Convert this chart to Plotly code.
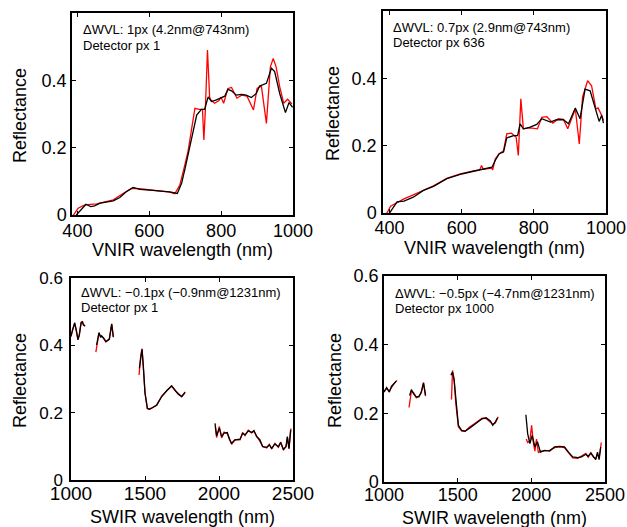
import plotly.graph_objects as go

# ---------------- data ----------------
# Panel 1: VNIR, detector px 1
p1_wl_black = [397, 412, 424, 437, 448, 463, 482, 500, 518, 536, 555, 574, 602, 630, 657, 678, 690, 700,
               712, 722, 732, 745, 754, 764, 773, 787, 800, 810, 819, 829, 842, 857, 870, 884, 898, 907,
               926, 940, 949, 963, 979, 989, 999]
p1_r_black = [0.0, 0.017, 0.032, 0.025, 0.027, 0.035, 0.038, 0.042, 0.052, 0.069, 0.082, 0.076, 0.074, 0.072,
              0.069, 0.064, 0.094, 0.14, 0.198, 0.252, 0.297, 0.314, 0.314, 0.351, 0.337, 0.342, 0.347, 0.353,
              0.373, 0.369, 0.356, 0.358, 0.356, 0.349, 0.361, 0.383, 0.391, 0.436, 0.426, 0.361, 0.304, 0.334, 0.32]
p1_wl_red = [385, 389, 402, 421, 454, 477, 500, 527, 551, 574, 602, 630, 657, 671, 685, 697, 708, 717, 727,
             739, 748, 752, 756, 762, 768, 771, 782, 794, 800, 807, 819, 829, 844, 857, 872, 890, 900, 912,
             926, 937, 945, 953, 963, 974, 985, 997]
p1_r_red = [-0.005, 0.0, 0.02, 0.03, 0.033, 0.038, 0.045, 0.064, 0.079, 0.078, 0.075, 0.073, 0.068, 0.063,
            0.089, 0.14, 0.19, 0.25, 0.317, 0.314, 0.314, 0.223, 0.31, 0.49, 0.35, 0.342, 0.332, 0.34, 0.35,
            0.332, 0.376, 0.379, 0.347, 0.356, 0.353, 0.312, 0.376, 0.383, 0.272, 0.44, 0.465, 0.44, 0.381,
            0.332, 0.344, 0.33]

# Panel 2: VNIR, detector px 636
p2_wl_black = [397, 421, 440, 466, 494, 522, 559, 596, 633, 660, 684, 693, 704, 716, 725, 744, 755, 762, 771,
               790, 808, 822, 846, 863, 882, 896, 915, 928, 942, 956, 974, 981, 988, 993]
p2_r_black = [-0.005, 0.033, 0.035, 0.047, 0.067, 0.079, 0.102, 0.115, 0.124, 0.131, 0.136, 0.156, 0.176,
              0.181, 0.223, 0.23, 0.23, 0.265, 0.25, 0.255, 0.263, 0.28, 0.27, 0.277, 0.277, 0.265, 0.312,
              0.28, 0.368, 0.363, 0.294, 0.272, 0.29, 0.267]
p2_wl_red = [382, 393, 403, 440, 466, 494, 522, 559, 596, 633, 650, 655, 660, 684, 686, 693, 704, 716, 725,
             738, 751, 757, 764, 771, 790, 810, 822, 836, 853, 868, 882, 894, 915, 926, 935, 949, 960, 972,
             978, 988, 993]
p2_r_red = [-0.005, 0.0, 0.02, 0.042, 0.054, 0.068, 0.081, 0.103, 0.116, 0.125, 0.128, 0.141, 0.13, 0.133,
            0.128, 0.16, 0.176, 0.185, 0.235, 0.237, 0.225, 0.171, 0.339, 0.25, 0.253, 0.25, 0.284, 0.286,
            0.267, 0.28, 0.278, 0.25, 0.309, 0.205, 0.344, 0.393, 0.378, 0.309, 0.312, 0.29, 0.275]

# Panel 3: SWIR, detector px 1 (None = gap between bands)
p3_wl_black = [1000, 1011, 1025, 1038, 1047, 1056, 1068, 1077, 1083, 1095, None,
               1173, 1189, 1200, 1207, 1220, 1236, 1259, 1275, 1286, None,
               1462, 1471, 1480, 1489, 1500, 1516, 1530, 1545, 1579, 1613, 1646, 1680, 1703, 1725, 1748, 1770, None,
               1973, 1984, 2002, 2018, 2034, 2056, 2070, 2085, 2108, 2142, 2160, 2176, 2198, 2221, 2236, 2254,
               2277, 2295, 2322, 2340, 2356, 2378, 2401, 2417, 2435, 2453, 2462, 2473, 2484]
p3_r_black = [0.428, 0.446, 0.467, 0.441, 0.416, 0.431, 0.466, 0.471, 0.461, 0.458, None,
              0.401, 0.438, 0.424, 0.428, 0.421, 0.411, 0.418, 0.464, 0.424, None,
              0.332, 0.371, 0.388, 0.337, 0.258, 0.213, 0.21, 0.213, 0.223, 0.248, 0.265, 0.279, 0.267, 0.255,
              0.248, 0.26, None,
              0.168, 0.131, 0.154, 0.129, 0.139, 0.141, 0.121, 0.109, 0.119, 0.121, 0.139, 0.134, 0.146, 0.141,
              0.147, 0.129, 0.119, 0.099, 0.097, 0.104, 0.094, 0.107, 0.099, 0.111, 0.091, 0.099, 0.129, 0.094,
              0.149]
p3_wl_red = [1000, 1011, 1025, 1038, 1047, 1056, 1068, 1077, 1083, 1095, None,
             1168, 1189, 1200, 1207, 1220, 1236, 1259, 1275, 1286, None,
             1460, 1471, 1480, 1489, 1500, 1516, 1530, 1545, 1579, 1613, 1646, 1680, 1703, 1725, 1748, 1772, None,
             1975, 1984, 2002, 2018, 2034, 2056, 2070, 2085, 2108, 2142, 2160, 2176, 2198, 2221, 2236, 2254,
             2277, 2295, 2322, 2340, 2356, 2378, 2401, 2417, 2435, 2453, 2462, 2473, 2486]
p3_r_red = [0.425, 0.448, 0.465, 0.44, 0.418, 0.43, 0.468, 0.47, 0.463, 0.456, None,
            0.38, 0.436, 0.426, 0.426, 0.422, 0.41, 0.42, 0.462, 0.426, None,
            0.312, 0.37, 0.39, 0.335, 0.26, 0.212, 0.211, 0.214, 0.222, 0.249, 0.264, 0.28, 0.266, 0.256,
            0.247, 0.262, None,
            0.158, 0.126, 0.159, 0.125, 0.142, 0.138, 0.124, 0.106, 0.12, 0.119, 0.141, 0.132, 0.148, 0.14,
            0.145, 0.131, 0.117, 0.1, 0.095, 0.106, 0.092, 0.109, 0.097, 0.113, 0.089, 0.101, 0.126, 0.092,
            0.153]

# Panel 4: SWIR, detector px 1000
p4_wl_black = [1000, 1018, 1036, 1051, 1067, 1082, None,
               1174, 1186, 1201, 1219, 1237, 1253, 1268, 1282, None,
               1454, 1465, 1476, 1487, 1505, 1528, 1550, 1581, 1621, 1666, 1693, 1722, 1738, 1756, 1771, None,
               1963, 1975, 1990, 2006, 2024, 2042, 2062, 2091, 2124, 2158, 2192, 2225, 2252, 2281, 2315, 2341,
               2370, 2386, 2404, 2422, 2437, 2449, 2460, 2471]
p4_r_black = [0.262, 0.275, 0.262, 0.279, 0.286, 0.294, None,
              0.252, 0.269, 0.257, 0.248, 0.248, 0.262, 0.288, 0.252, None,
              0.311, 0.32, 0.296, 0.238, 0.165, 0.15, 0.148, 0.157, 0.17, 0.184, 0.187, 0.178, 0.165, 0.175,
              0.187, None,
              0.196, 0.141, 0.112, 0.136, 0.102, 0.117, 0.087, 0.092, 0.09, 0.102, 0.104, 0.102, 0.087, 0.073,
              0.071, 0.073, 0.081, 0.075, 0.084, 0.073, 0.065, 0.087, 0.065, 0.102]
p4_wl_red = [1000, 1018, 1036, 1051, 1067, 1089, None,
             1170, 1186, 1201, 1219, 1237, 1253, 1268, 1282, None,
             1458, 1465, 1476, 1487, 1505, 1528, 1550, 1581, 1621, 1666, 1693, 1722, 1738, 1756, 1775, None,
             1965, 1975, 1990, 2002, 2012, 2024, 2035, 2048, 2062, 2091, 2124, 2158, 2192, 2225, 2252, 2281,
             2315, 2341, 2370, 2386, 2404, 2422, 2437, 2449, 2460, 2475]
p4_r_red = [0.265, 0.272, 0.265, 0.275, 0.286, 0.296, None,
            0.217, 0.265, 0.26, 0.245, 0.25, 0.26, 0.29, 0.25, None,
            0.24, 0.325, 0.3, 0.23, 0.16, 0.148, 0.148, 0.16, 0.172, 0.186, 0.185, 0.175, 0.168, 0.172, 0.19, None,
            0.125, 0.115, 0.12, 0.165, 0.12, 0.09, 0.125, 0.085, 0.09, 0.09, 0.092, 0.1, 0.102, 0.1, 0.085,
            0.07, 0.069, 0.075, 0.083, 0.072, 0.085, 0.072, 0.068, 0.082, 0.07, 0.115]

panel_labels = [
    ["\u0394WVL: 1px (4.2nm@743nm)", "Detector px 1"],
    ["\u0394WVL: 0.7px (2.9nm@743nm)", "Detector px 636"],
    ["\u0394WVL: \u22120.1px (\u22120.9nm@1231nm)", "Detector px 1"],
    ["\u0394WVL: \u22120.5px (\u22124.7nm@1231nm)", "Detector px 1000"],
]
x_titles = ["VNIR wavelength (nm)", "VNIR wavelength (nm)", "SWIR wavelength (nm)", "SWIR wavelength (nm)"]
y_title = "Reflectance"
x_ranges = [[385, 1000], [382, 1000], [1000, 2500], [1000, 2500]]
vnir_ticks = [400, 600, 800, 1000]
swir_ticks = [1000, 1500, 2000, 2500]
top_yticks = [0, 0.2, 0.4]
bot_yticks = [0, 0.2, 0.4, 0.6]
ytick_text_top = ["0", "0.2", "0.4"]
ytick_text_bot = ["0", "0.2", "0.4", "0.6"]

# ---------------- figure ----------------
W, H = 627, 527
FONT = "Liberation Sans, Arial, Helvetica, sans-serif"

# panel frames in pixels: (left, right, top, bottom)
frames = [(72, 293, 13, 215), (383, 606, 11, 213), (71, 293, 278, 480), (384, 605, 276, 482)]
# axis-title positions in pixels: (x-title y, y-title x)
title_pos = [(250, 20), (248, 333), (517, 20), (518, 335)]
x_standoff = [-1, -2, -5, -4]
y_standoff = [0, 1, 3, 0]
x_tick_size = [18, 18, 19, 18]
y_tick_size = [18, 18, 17, 18]

series = [
    (p1_wl_red, p1_r_red, p1_wl_black, p1_r_black),
    (p2_wl_red, p2_r_red, p2_wl_black, p2_r_black),
    (p3_wl_red, p3_r_red, p3_wl_black, p3_r_black),
    (p4_wl_red, p4_r_red, p4_wl_black, p4_r_black),
]

fig = go.Figure()
layout = dict(
    template="none",
    width=W, height=H, margin=dict(l=0, r=0, t=0, b=0, pad=0),
    paper_bgcolor="white", plot_bgcolor="white",
    showlegend=False, font=dict(family=FONT, color="black"),
)
annotations = []
for i, (fr, (rx, ry, bx, by)) in enumerate(zip(frames, series)):
    n = "" if i == 0 else str(i + 1)
    xa, ya = "x" + n, "y" + n
    fig.add_trace(go.Scatter(x=rx, y=ry, mode="lines", line=dict(color="#ff0000", width=1.3),
                             xaxis=xa, yaxis=ya, connectgaps=False, hoverinfo="skip"))
    fig.add_trace(go.Scatter(x=bx, y=by, mode="lines", line=dict(color="black", width=1.3),
                             xaxis=xa, yaxis=ya, connectgaps=False, hoverinfo="skip"))
    l, r, t, b = fr
    top = i < 2
    layout["xaxis" + n] = dict(
        domain=[l / W, r / W], anchor=ya, automargin=False,
        range=x_ranges[i],
        tickmode="array", tickvals=vnir_ticks if top else swir_ticks,
        showline=True, linecolor="black", linewidth=1.5, mirror="ticks",
        ticks="inside", ticklen=4, tickwidth=1, tickcolor="black", showgrid=False, zeroline=False,
        tickfont=dict(size=x_tick_size[i], family=FONT, color="black"),
        ticklabelstandoff=x_standoff[i], ticklabeloverflow="allow",
    )
    layout["yaxis" + n] = dict(
        domain=[1 - b / H, 1 - t / H], anchor=xa, automargin=False,
        range=[0, 0.6],
        tickmode="array",
        tickvals=top_yticks if top else bot_yticks,
        ticktext=ytick_text_top if top else ytick_text_bot,
        showline=True, linecolor="black", linewidth=1.5, mirror="ticks",
        ticks="inside", ticklen=4, tickwidth=1, tickcolor="black", showgrid=False, zeroline=False,
        tickfont=dict(size=y_tick_size[i], family=FONT, color="black"),
        ticklabelstandoff=y_standoff[i], ticklabeloverflow="allow",
    )
    # axis titles
    xty, ytx = title_pos[i]
    annotations.append(dict(
        text=x_titles[i], xref="paper", yref="paper", x=(l + r) / 2 / W, y=1 - xty / H,
        xanchor="center", yanchor="middle", showarrow=False,
        font=dict(size=18, family=FONT, color="black")))
    annotations.append(dict(
        text=y_title, xref="paper", yref="paper", x=ytx / W, y=1 - ((t + b) / 2 + 2) / H,
        xanchor="center", yanchor="middle", showarrow=False, textangle=-90,
        font=dict(size=18, family=FONT, color="black")))
    # text labels inside each panel
    tx = l + (9 if i in (0, 3) else 8)
    ty1 = t + 17 if i != 2 else t + 14
    for k, txt in enumerate(panel_labels[i]):
        annotations.append(dict(
            text=txt, xref="paper", yref="paper", x=tx / W, y=1 - (ty1 + 15 * k) / H,
            xanchor="left", yanchor="middle", showarrow=False,
            font=dict(size=13, family=FONT, color="black"),
        ))
layout["annotations"] = annotations
fig.update_layout(**layout)
fig.write_html("out.html")
